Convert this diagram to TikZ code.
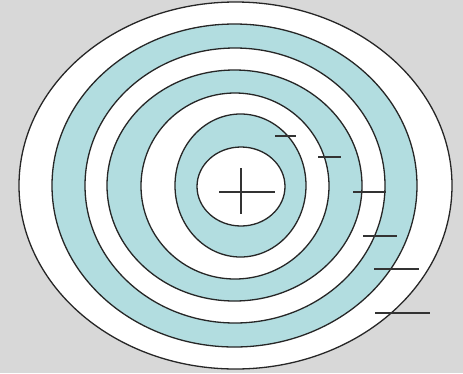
\documentclass[tikz,border=0pt]{standalone}
\usepackage{tikz}
\usetikzlibrary{positioning}
\definecolor{ringblue}{RGB}{178,221,224}
\definecolor{bggray}{RGB}{216,216,216}

\begin{document}
\begin{tikzpicture}[x=1pt, y=-1pt, ring/.style={draw=black!85, line width=1.3pt}, tick/.style={draw=black!80, line width=1.2pt}]
        \fill[bggray] (0,0) rectangle (463,373);
        \useasboundingbox (0,0) rectangle (463,373);
        % rings, outside in
        \foreach \cx/\cy/\rx/\ry/\col in {235.5/185.5/216.5/183.5/white, 234.5/185.5/182.5/161.5/ringblue,
            235/185.5/150/137.5/white, 234.5/185.5/127.5/115.5/ringblue, 235/186/94/93/white,
            240.5/185.5/65.5/71.5/ringblue, 241/186.5/44/39.5/white}
          \path[ring, fill=\col] (\cx,\cy) ellipse [x radius=\rx pt, y radius=\ry pt];
        % plus in the middle
        \coordinate (pl) at (219,192); \coordinate (pr) at (275,192);
        \coordinate (pt) at (241,168); \coordinate (pb) at (241,214);
        \draw[tick] (pl) -- (pr);
        \draw[tick] (pt) -- (pb);
        % minus marks
        \foreach \a/\b/\y [count=\i] in {275/296/136, 318/341/157, 353/386/192, 363/397/236, 374/419/269, 375/430/313} {
          \coordinate (m\i a) at (\a,\y); \coordinate (m\i b) at (\b,\y);
          \draw[tick] (m\i a) -- (m\i b);
        }
      \end{tikzpicture}
\end{document}
